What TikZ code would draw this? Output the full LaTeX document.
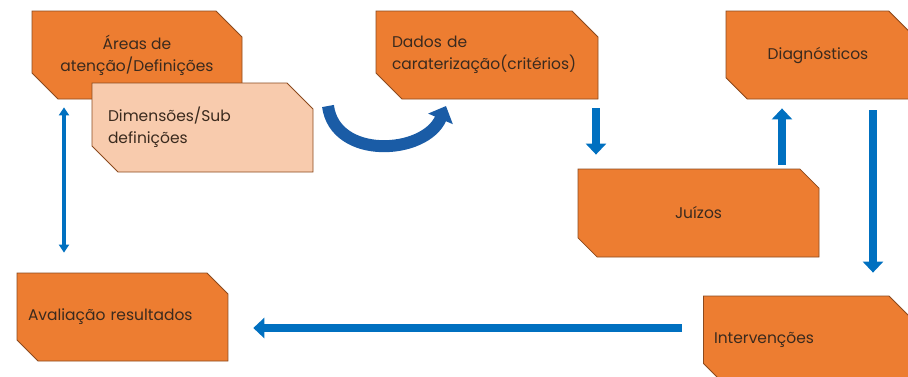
\documentclass[tikz,border=0pt]{standalone}
\usepackage{fontspec}
\setmainfont{Poppins}
\usetikzlibrary{shapes.misc,arrows.meta}
\definecolor{boxorange}{HTML}{ED7D31}
\definecolor{boxedge}{HTML}{8C4A1E}
\definecolor{boxpeach}{HTML}{F8CBAD}
\definecolor{arrowblue}{HTML}{0070C0}
\definecolor{arcblue}{HTML}{1A5CA6}
\definecolor{textdark}{HTML}{3A2A1E}
\tikzset{
  snipbox/.style={chamfered rectangle, chamfered rectangle corners={north east,south west},
    chamfered rectangle sep=13pt, fill=boxorange, draw=boxedge, line width=0.8pt,
    text=textdark, font=\fontsize{15.5}{22}\selectfont, minimum height=88pt,
    inner xsep=3pt, inner ysep=0pt, align=center},
  leftbox/.style={snipbox, align=left},
  flowarrow/.style={draw=arrowblue, line width=8pt, -{Triangle[length=11pt,width=20pt]}},
  thinarrow/.style={draw=arrowblue, line width=3.5pt, {Triangle[length=8pt,width=10pt]}-{Triangle[length=8pt,width=10pt]}},
  arcarrow/.style={draw=arcblue, line width=12pt, -{Triangle[length=14pt,width=26pt]}},
}
\begin{document}
\begin{tikzpicture}[x=1pt,y=-1pt]
\useasboundingbox (0,0) rectangle (908,376);
\clip (0,0) rectangle (908,376);
% boxes
\node [snipbox, minimum width=210pt] (areas) at (137,55) {Áreas de\\atenção/Definições};
\node [leftbox, fill=boxpeach, text width=189pt, minimum height=89pt] (dim) at (202.5,127.5) {Dimensões/Sub\\definições};
\node [leftbox, text width=190pt] (dados) at (487,55) {Dados de\\caraterização(critérios)};
\node [snipbox, minimum width=184pt] (diag) at (818,55) {Diagnósticos};
\node [snipbox, minimum width=241pt] (juizos) at (698.5,213) {Juízos};
\node [leftbox, text width=189pt] (aval) at (122.5,317) {Avaliação resultados};
\node [leftbox, text width=185pt] (interv) at (806.5,340) {Intervenções};
% arrows
\draw [thinarrow, shorten <=8pt, shorten >=20pt] ([xshift=-73pt]areas.south) -- ([xshift=-73pt]areas.south |- aval.north);
\coordinate (arcstart) at (328,106);
\coordinate (arcend) at (446,106);
\draw [arcarrow] (arcstart) .. controls (335,160) and (425,155) .. (arcend);
\draw [flowarrow, shorten <=9pt, shorten >=14pt] ([xshift=109pt]dados.south) -- ([xshift=109pt]dados.south |- juizos.north);
\draw [flowarrow, shorten <=4pt, shorten >=9pt] ([xshift=83.5pt]juizos.north) -- ([xshift=83.5pt]juizos.north |- diag.south);
\draw [flowarrow, shorten <=11pt, shorten >=23pt] ([xshift=55pt]diag.south) -- ([xshift=55pt]diag.south |- interv.north);
\draw [flowarrow, shorten <=21pt, shorten >=25pt] ([yshift=12pt]interv.west) -- ([yshift=12pt]interv.west -| aval.east);
\end{tikzpicture}
\end{document}
